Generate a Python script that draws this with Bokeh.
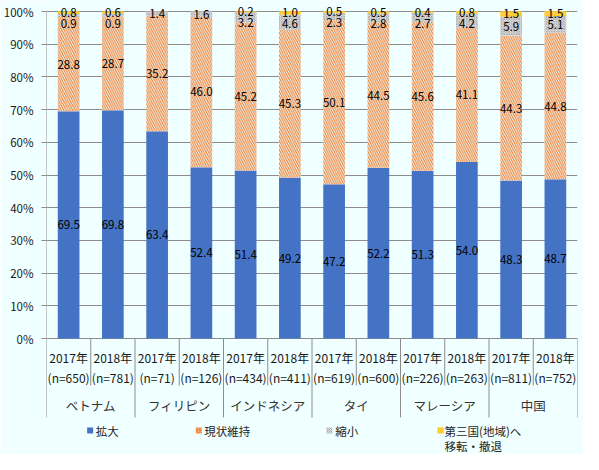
import numpy as np
from bokeh.plotting import figure
from bokeh.models import ColumnDataSource, Range1d, FixedTicker, PrintfTickFormatter
from bokeh.core.properties import value
from bokeh.embed import file_html
from bokeh.resources import INLINE

# ---------------- data ----------------
countries = ["ベトナム", "フィリピン", "インドネシア", "タイ", "マレーシア", "中国"]
years = ["2017年", "2018年"]
sample_sizes = ["(n=650)", "(n=781)", "(n=71)", "(n=126)", "(n=434)", "(n=411)",
                "(n=619)", "(n=600)", "(n=226)", "(n=263)", "(n=811)", "(n=752)"]
expand = [69.5, 69.8, 63.4, 52.4, 51.4, 49.2, 47.2, 52.2, 51.3, 54.0, 48.3, 48.7]
maintain = [28.8, 28.7, 35.2, 46.0, 45.2, 45.3, 50.1, 44.5, 45.6, 41.1, 44.3, 44.8]
shrink = [0.9, 0.9, 1.4, 1.6, 3.2, 4.6, 2.3, 2.8, 2.7, 4.2, 5.9, 5.1]
relocate = [0.8, 0.6, 0.0, 0.0, 0.2, 1.0, 0.5, 0.5, 0.4, 0.8, 1.5, 1.5]
series_names = ["拡大", "現状維持", "縮小", "第三国(地域)へ", "移転・撤退"]
y_ticks = [0, 10, 20, 30, 40, 50, 60, 70, 80, 90, 100]

# ---------------- layout helpers ----------------
W, H = 583, 454
FONT = "Noto Sans CJK JP"
BG = "#F0FFFF"
GRID = "#8C8C8C"
TXT = "#1A1A1A"
TOP100 = 11.0                # px from figure top to the 100% line
ZERO = 338.0                 # px from figure top to the 0% line
PX = (ZERO - TOP100) / 100.0 # pixels per percent
Y_END = 100 + TOP100 / PX
Y_START = Y_END - H / PX
FRAME_L, FRAME_R = 42, 577
SLOT = (FRAME_R - FRAME_L) / 12.0


def yv(fig_px):
    """figure-pixel row -> data y"""
    return Y_END - fig_px / PX


def xv(fig_px):
    return (fig_px - FRAME_L) / SLOT


n = len(expand)
xs = np.arange(n) + 0.5
e = np.array(expand); m = np.array(maintain); s = np.array(shrink); r = np.array(relocate)
b0 = np.zeros(n); t0 = e
b1 = t0; t1 = b1 + m
b2 = t1; t2 = b2 + s
b3 = t2; t3 = b3 + r

p = figure(width=W, height=H, output_backend="svg", toolbar_location=None,
           x_range=Range1d(0, 12), y_range=Range1d(Y_START, Y_END),
           x_axis_location=None, min_border_left=FRAME_L, min_border_right=W - FRAME_R,
           min_border_top=0, min_border_bottom=0,
           background_fill_color=BG, border_fill_color=BG, outline_line_color=None)

p.xgrid.visible = False
p.yaxis.ticker = FixedTicker(ticks=y_ticks)
p.yaxis.formatter = PrintfTickFormatter(format="%d%%")
p.yaxis.axis_line_color = None
p.yaxis.major_tick_out = 5
p.yaxis.major_tick_in = 0
p.yaxis.minor_tick_line_color = None
p.yaxis.major_tick_line_color = GRID
p.yaxis.major_label_standoff = 8
p.yaxis.major_label_text_font = FONT
p.yaxis.major_label_text_font_size = "11.5px"
p.yaxis.major_label_text_color = TXT
p.ygrid.ticker = FixedTicker(ticks=y_ticks)
p.ygrid.grid_line_color = GRID
p.ygrid.grid_line_width = 1

src = ColumnDataSource(dict(x=xs, b0=b0, t0=t0, b1=b1, t1=t1, b2=b2, t2=t2, b3=b3, t3=t3))
BW = 0.49
p.vbar(x="x", bottom="b0", top="t0", width=BW, source=src, fill_color="#4472C4", line_color=None)
p.vbar(x="x", bottom="b1", top="t1", width=BW, source=src, fill_color=BG, line_color=None,
       hatch_pattern="\\", hatch_color="#ED7D31", hatch_scale=4.5, hatch_weight=1.1)
p.vbar(x="x", bottom="b2", top="t2", width=BW, source=src, fill_color="#E4E4E4", line_color=None,
       hatch_pattern="x", hatch_color="#9A9A9A", hatch_scale=2.5, hatch_weight=0.7)
p.vbar(x="x", bottom="b3", top="t3", width=BW, source=src, fill_color="#FFC000", line_color=None,
       hatch_pattern="x", hatch_color="#FFE28A", hatch_scale=2.5, hatch_weight=0.7)

# ---------------- value labels ----------------
lx, ly, lt = [], [], []
for i in range(n):
    ylab_r = None
    if r[i] > 0:
        ylab_r = (b3[i] + t3[i]) / 2
        lx.append(xs[i]); ly.append(ylab_r); lt.append(f"{r[i]:.1f}")
    yc = (b2[i] + t2[i]) / 2
    if ylab_r is not None:
        yc = min(yc, ylab_r - 11.0 / PX)
    lx.append(xs[i]); ly.append(yc); lt.append(f"{s[i]:.1f}")
    lx.append(xs[i]); ly.append((b1[i] + t1[i]) / 2); lt.append(f"{m[i]:.1f}")
    lx.append(xs[i]); ly.append((b0[i] + t0[i]) / 2); lt.append(f"{e[i]:.1f}")
p.text(x=lx, y=ly, text=lt, text_align="center", text_baseline="middle",
       text_font=value(FONT), text_font_size="11.5px", text_color="#000000")

# ---------------- category axis ----------------
y_axis_bottom = yv(417)
p.segment(x0=[0], y0=[100], x1=[0], y1=[y_axis_bottom], line_color=GRID, line_width=1)
gx = [2 * (k + 1) for k in range(len(countries))]
p.segment(x0=gx, y0=[0] * len(gx), x1=gx, y1=[y_axis_bottom] * len(gx), line_color=GRID, line_width=1)
ix = [2 * k + 1 for k in range(len(countries))]
p.segment(x0=ix, y0=[0] * len(ix), x1=ix, y1=[yv(385)] * len(ix), line_color=GRID, line_width=1)

year_labels = [years[i % 2] for i in range(n)]
p.text(x=xs, y=[yv(357)] * n, text=year_labels, text_align="center", text_baseline="middle",
       text_font=value(FONT), text_font_size="12px", text_color=TXT)
p.text(x=xs, y=[yv(377)] * n, text=sample_sizes, text_align="center", text_baseline="middle",
       text_font=value(FONT), text_font_size="12px", text_color=TXT)
cx = [2 * k + 1 for k in range(len(countries))]
p.text(x=cx, y=[yv(405)] * len(countries), text=countries, text_align="center", text_baseline="middle",
       text_font=value(FONT), text_font_size="12.5px", text_color="#333333")

# ---------------- legend ----------------
ROW1, ROW2 = 430, 445
leg_colors = ["#4472C4", "#ED7D31", "#A5A5A5", "#FFC000"]
mk_x = [xv(86), xv(195.5), xv(327), xv(439)]
p.rect(x=mk_x[0], y=yv(ROW1), width=6, height=6, width_units="screen", height_units="screen",
       fill_color=leg_colors[0], line_color=None)
p.rect(x=mk_x[1], y=yv(ROW1), width=6, height=6, width_units="screen", height_units="screen",
       fill_color=BG, line_color=None, hatch_pattern="\\", hatch_color=leg_colors[1],
       hatch_scale=3, hatch_weight=1.2)
p.rect(x=mk_x[2], y=yv(ROW1), width=6, height=6, width_units="screen", height_units="screen",
       fill_color="#E4E4E4", line_color=None, hatch_pattern="x", hatch_color="#9A9A9A",
       hatch_scale=2, hatch_weight=0.7)
p.rect(x=mk_x[3], y=yv(ROW1), width=6, height=6, width_units="screen", height_units="screen",
       fill_color="#FFC000", line_color=None, hatch_pattern="x", hatch_color="#FFE28A",
       hatch_scale=2, hatch_weight=0.7)
tx = [xv(91.5), xv(201), xv(333), xv(443), xv(443)]
ty = [yv(ROW1), yv(ROW1), yv(ROW1), yv(ROW1), yv(ROW2)]
p.text(x=tx, y=ty, text=series_names, text_align="left", text_baseline="middle",
       text_font=value(FONT), text_font_size="11.5px", text_color="#262626")

html = file_html(p, INLINE)
html = html.replace("<body>", '<body style="background-color:%s;">' % BG, 1)
open("out.html", "w").write(html)
